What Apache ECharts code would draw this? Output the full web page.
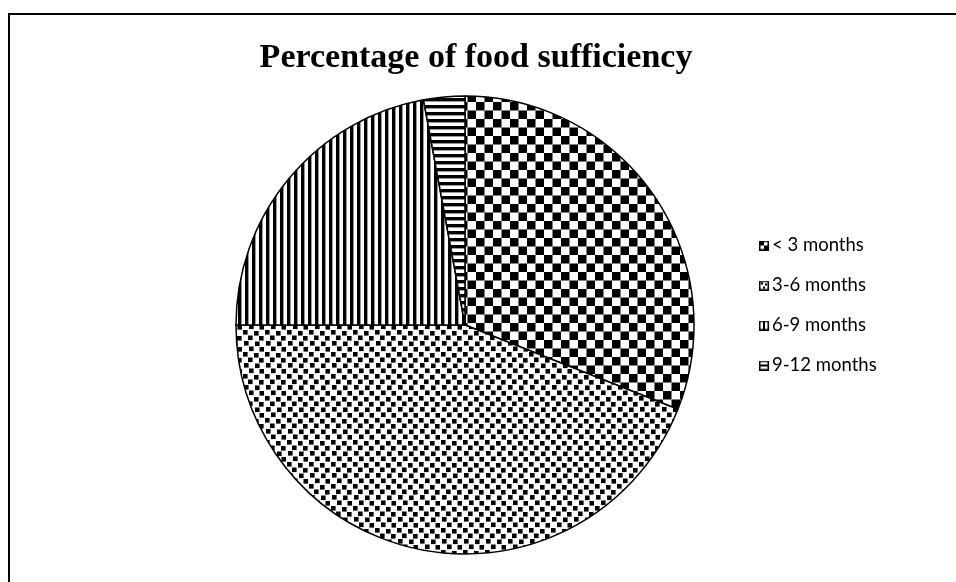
<!DOCTYPE html>
<html>
<head>
<meta charset="utf-8">
<script src="https://cdn.jsdelivr.net/npm/echarts@6/dist/echarts.min.js"></script>
<style>
  html, body { margin: 0; padding: 0; background: #fff; }
  #chart { width: 956px; height: 582px; }
</style>
</head>
<body>
<div id="chart"></div>
<script>
// Food sufficiency groups and their shares (%)
const categories = ['< 3 months', '3-6 months', '6-9 months', '9-12 months'];
const percentages = [31.0, 44.0, 22.1, 2.9];
const titleText = 'Percentage of food sufficiency';

// Monochrome hatch fills, one per group
function makeTile(w, h, draw) {
  const c = document.createElement('canvas');
  c.width = w; c.height = h;
  const ctx = c.getContext('2d');
  ctx.fillStyle = '#fff';
  ctx.fillRect(0, 0, w, h);
  ctx.fillStyle = '#000';
  draw(ctx);
  return c;
}
const tiles = [
  // large checkerboard
  makeTile(17, 17, ctx => { ctx.fillRect(0, 0, 8.5, 8.5); ctx.fillRect(8.5, 8.5, 8.5, 8.5); }),
  // large confetti
  makeTile(22, 22, ctx => {
    [[1, 0], [12, 1], [6, 5.5], [17, 6], [2, 11], [13, 11.5], [7, 16.5], [17.5, 17]]
      .forEach(p => ctx.fillRect(p[0], p[1], 4.6, 4.6));
  }),
  // vertical stripes
  makeTile(7, 7, ctx => { ctx.fillRect(0, 0, 3.4, 7); }),
  // horizontal stripes
  makeTile(7, 7, ctx => { ctx.fillRect(0, 0, 7, 3.4); })
];

// Small swatches for the legend
function makeSwatch(kind) {
  const s = 10;
  const c = document.createElement('canvas');
  c.width = s; c.height = s;
  const ctx = c.getContext('2d');
  ctx.fillStyle = '#fff';
  ctx.fillRect(0, 0, s, s);
  ctx.fillStyle = '#000';
  if (kind === 0) { ctx.fillRect(1, 1, 4, 4); ctx.fillRect(5, 5, 4, 4); }
  if (kind === 1) { ctx.fillRect(2, 2, 2, 2); ctx.fillRect(6, 3, 2, 2); ctx.fillRect(4, 6, 2, 2); }
  if (kind === 2) { ctx.fillRect(4, 1, 2, 8); }
  if (kind === 3) { ctx.fillRect(1, 4, 8, 2); }
  ctx.strokeStyle = '#000';
  ctx.lineWidth = 1.5;
  ctx.strokeRect(0.75, 0.75, s - 1.5, s - 1.5);
  return 'image://' + c.toDataURL();
}

const chart = echarts.init(document.getElementById('chart'), null, { renderer: 'canvas' });

chart.setOption({
  animation: false,
  backgroundColor: '#fff',
  title: {
    text: titleText,
    left: 471,
    textAlign: 'center',
    top: 36,
    textStyle: {
      fontFamily: 'Liberation Serif',
      fontWeight: 'bold',
      fontSize: 34,
      color: '#000'
    }
  },
  legend: {
    orient: 'vertical',
    left: 754,
    top: 231,
    itemWidth: 10,
    itemHeight: 10,
    itemGap: 21,
    selectedMode: false,
    textStyle: { fontFamily: 'Lato', fontSize: 18.5, color: '#000', padding: [0, 0, 0, -2] },
    data: categories.map((name, i) => ({ name: name, icon: makeSwatch(i) }))
  },
  graphic: [{
    type: 'rect',
    silent: true,
    shape: { x: 9, y: 14, width: 1200, height: 1200 },
    style: { fill: 'none', stroke: '#000', lineWidth: 2 }
  }],
  series: [{
    type: 'pie',
    center: [465, 325],
    radius: 229,
    startAngle: 90,
    clockwise: true,
    label: { show: false },
    labelLine: { show: false },
    emphasis: { disabled: true },
    itemStyle: { borderColor: '#000', borderWidth: 1.5 },
    data: categories.map((name, i) => ({
      name: name,
      value: percentages[i],
      itemStyle: { color: { image: tiles[i], repeat: 'repeat' } }
    }))
  }]
});
</script>
</body>
</html>
